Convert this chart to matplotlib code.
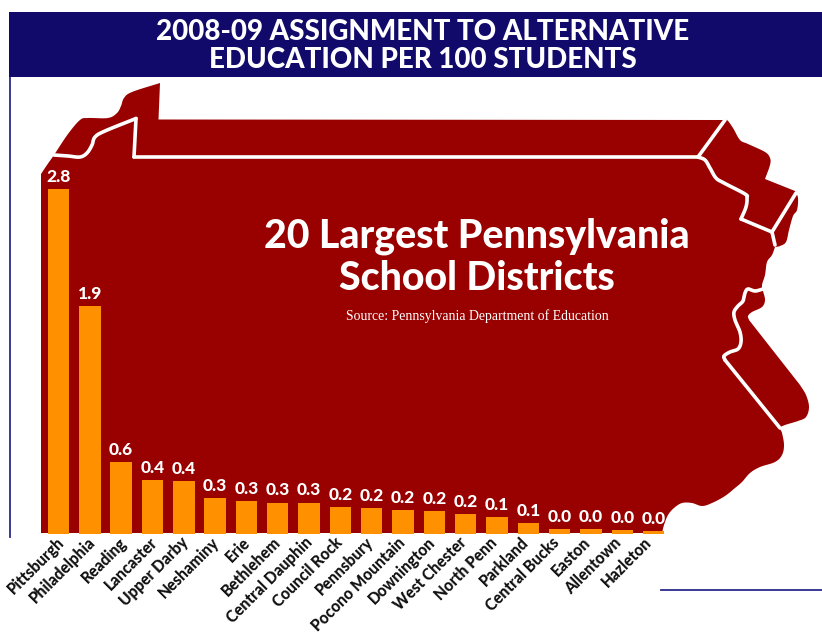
import numpy as np
import matplotlib
matplotlib.use("Agg")
import matplotlib.pyplot as plt
from matplotlib.patches import Polygon, Rectangle

districts = ["Pittsburgh", "Philadelphia", "Reading", "Lancaster", "Upper Darby", "Neshaminy",
             "Erie", "Bethlehem", "Central Dauphin", "Council Rock", "Pennsbury", "Pocono Mountain",
             "Downington", "West Chester", "North Penn", "Parkland", "Central Bucks", "Easton",
             "Allentown", "Hazleton"]
rates = [2.80, 1.852, 0.58, 0.435, 0.427, 0.29, 0.265, 0.252, 0.252, 0.215, 0.207, 0.19,
         0.183, 0.158, 0.134, 0.085, 0.037, 0.037, 0.03, 0.02]

title_text = "2008-09 ASSIGNMENT TO ALTERNATIVE\nEDUCATION PER 100 STUDENTS"
headline_text = "20 Largest Pennsylvania\nSchool Districts"
source_text = "Source: Pennsylvania Department of Education"

W, H = 822, 633
RED, ORANGE, NAVY, RULE = "#990000", "#FF9000", "#110A6B", "#2A2A8C"


def smooth(pts, n=10):
    """Catmull-Rom through hand-traced outline points (decorative map only)."""
    p = np.array(pts, float)
    if len(p) < 3:
        return p
    q = np.vstack([2 * p[0] - p[1], p, 2 * p[-1] - p[-2]])
    out = []
    for i in range(1, len(q) - 2):
        for t in np.linspace(0, 1, n, endpoint=False):
            a, b, c, d = q[i - 1], q[i], q[i + 1], q[i + 2]
            out.append(0.5 * (2 * b + (c - a) * t + (2 * a - 5 * b + 4 * c - d) * t ** 2
                              + (3 * b - a - 3 * c + d) * t ** 3))
    out.append(p[-1])
    return np.array(out)


outline_segments = [
    [(41, 533), (41, 174)],
    [(41, 174), (47, 165), (54, 155), (68, 134), (80, 120), (88, 118), (108, 118), (117, 113),
     (121, 106), (124, 98), (132, 92), (160, 83)],
    [(160, 83), (158.5, 119.5)],
    [(158.5, 119.5), (723, 120)],
    [(723, 120), (727, 120), (733, 128), (740, 140), (748, 144), (765, 152), (770, 158), (770, 165),
     (765, 179)],
    [(765, 179), (795, 191)],
    [(795, 191), (798, 198), (797, 210), (793, 216), (789, 230), (786, 242), (780, 246), (775, 247)],
    [(775, 247), (772, 255), (767, 262), (765, 275), (762, 285), (763, 291), (765, 300), (762, 307),
     (752, 312), (748, 316), (749, 320)],
    [(749, 320), (800, 385)],
    [(800, 385), (806, 395), (809, 407), (806, 417), (798, 421), (785, 425), (780, 428), (782, 433),
     (784, 445), (782, 455), (775, 462), (760, 467), (750, 473), (742, 482), (735, 488), (725, 496),
     (712, 503), (702, 506), (692, 503), (682, 503), (674, 508), (668, 515), (664, 525), (662, 533)],
]
border_lines = [
    [(54, 155), (68, 156), (80, 157), (87, 153), (92, 145), (95, 137), (105, 131), (136, 118.5)],
    [(136, 118.5), (134, 157)],
    [(134, 157), (698, 157)],
    [(698, 157), (725, 120)],
    [(698, 157), (705, 160), (710, 168), (716, 178), (724, 183), (745, 194), (747, 198), (746, 207), (741, 219)],
    [(741, 219), (772, 232)],
    [(772, 232), (796, 193)],
    [(772, 232), (775, 245)],
    [(763, 289), (755, 291), (748, 289), (745, 293), (743, 301), (738, 306), (734, 312), (735, 320),
     (740, 332), (741, 342), (738, 349), (730, 352), (724, 356), (725, 360)],
    [(725, 360), (780, 428)],
]

fig = plt.figure(figsize=(W / 100, H / 100), dpi=100, facecolor="white")

bg = fig.add_axes([0, 0, 1, 1])
bg.set_xlim(0, W)
bg.set_ylim(H, 0)
bg.axis("off")
outline = np.vstack([smooth(s) for s in outline_segments])
bg.add_patch(Polygon(outline, closed=True, facecolor=RED, edgecolor="none"))
for s in border_lines:
    xy = smooth(s)
    bg.plot(xy[:, 0], xy[:, 1], color="white", lw=2.6, solid_capstyle="round", solid_joinstyle="round")
bg.add_patch(Rectangle((9, 12), W - 9, 65, facecolor=NAVY, edgecolor="none", zorder=5))
bg.plot([10, 10], [77, 537], color=RULE, lw=1.3)
bg.plot([661, W], [590, 590], color=RULE, lw=1.3)

bold = ["Lato"]
bg.text(423, 46, title_text, color="white", ha="center", va="center", fontsize=20, family=bold,
        fontweight="black", linespacing=1.1, zorder=6)
bg.text(477, 257, headline_text, color="white", ha="center", va="center", fontsize=28.3, family=bold,
        fontweight="black", linespacing=1.15)
bg.text(477, 316, source_text, color="white", ha="center", va="center", fontsize=9.95,
        family="Liberation Serif")

# bar axes: 31.32 px per category, 123 px per unit, baseline at y = 533.5
left = 58.5 - 0.5 * 31.32
right = 653.6 + 0.5 * 31.32
base, top = 533.5, 533.5 - 3.0 * 123
ax = fig.add_axes([left / W, 1 - base / H, (right - left) / W, (base - top) / H])
ax.patch.set_alpha(0)
x = np.arange(len(districts))
bars = ax.bar(x, rates, width=21.5 / 31.32, color=ORANGE, linewidth=0)
ax.set_xlim(-0.5, len(districts) - 0.5)
ax.set_ylim(0, 3)
ax.set_yticks([])
for s in ax.spines.values():
    s.set_visible(False)
ax.set_xticks(x * (30.9 / 31.32) - 0.06)
ax.set_xticklabels(districts, rotation=45, ha="right", va="top", rotation_mode="anchor",
                   fontsize=11.2, family=bold, fontweight="black", color="#111111")
ax.tick_params(axis="x", length=0, pad=0.5)
for b, v in zip(bars, rates):
    ax.annotate(f"{v:.1f}", (b.get_x() + b.get_width() / 2, v), xytext=(0, 3), textcoords="offset points",
                ha="center", va="bottom", color="white", fontsize=12.5, family=bold, fontweight="black")

fig.savefig("out.png", dpi=100)
